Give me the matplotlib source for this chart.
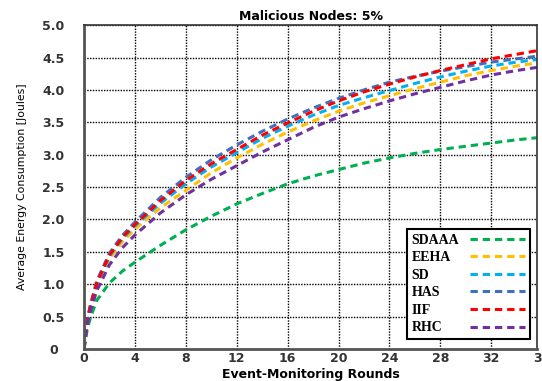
import matplotlib
matplotlib.use('Agg')
import matplotlib.pyplot as plt

rounds = [0, 0.25, 0.5, 1, 2, 3, 4, 6, 8, 10, 12, 14, 16, 18, 20, 22, 24, 26, 28, 30, 32, 34, 36]

sdaaa = [0, 0.30, 0.48, 0.75, 1.02, 1.20, 1.34, 1.60, 1.84, 2.05, 2.24, 2.40, 2.55, 2.67, 2.77,
         2.87, 2.95, 3.02, 3.08, 3.13, 3.18, 3.23, 3.27]
eeha = [0, 0.42, 0.63, 0.97, 1.39, 1.65, 1.85, 2.18, 2.45, 2.72, 2.95, 3.16, 3.35, 3.52, 3.67,
        3.80, 3.91, 4.02, 4.12, 4.22, 4.30, 4.37, 4.43]
sd = [0, 0.43, 0.65, 1.00, 1.43, 1.70, 1.90, 2.25, 2.55, 2.81, 3.03, 3.25, 3.44, 3.61, 3.76,
      3.88, 3.99, 4.10, 4.20, 4.29, 4.37, 4.43, 4.48]
has = [0, 0.45, 0.68, 1.05, 1.48, 1.75, 1.96, 2.34, 2.65, 2.92, 3.15, 3.36, 3.55, 3.72, 3.87,
       4.00, 4.12, 4.21, 4.29, 4.36, 4.43, 4.48, 4.53]
iif = [0, 0.44, 0.66, 1.02, 1.45, 1.72, 1.92, 2.29, 2.60, 2.86, 3.08, 3.30, 3.49, 3.67, 3.83,
       3.97, 4.09, 4.20, 4.30, 4.39, 4.48, 4.55, 4.62]
rhc = [0, 0.38, 0.58, 0.90, 1.30, 1.56, 1.76, 2.10, 2.38, 2.62, 2.83, 3.04, 3.23, 3.42, 3.58,
       3.71, 3.83, 3.94, 4.04, 4.14, 4.23, 4.30, 4.36]

series = [
    ('SDAAA', sdaaa, '#00b050'),
    ('EEHA', eeha, '#ffc000'),
    ('SD', sd, '#00b0f0'),
    ('HAS', has, '#3f6fbf'),
    ('IIF', iif, '#ff0000'),
    ('RHC', rhc, '#7030a0'),
]

xticks = [0, 4, 8, 12, 16, 20, 24, 28, 32]
yticks = [0, 0.5, 1.0, 1.5, 2.0, 2.5, 3.0, 3.5, 4.0, 4.5, 5.0]
ytick_labels = ['0', '0.5', '1.0', '1.5', '2.0', '2.5', '3.0', '3.5', '4.0', '4.5', '5.0']

fig = plt.figure(figsize=(5.42, 3.81), dpi=100)
ax = fig.add_axes([0.155, 0.084, 0.836, 0.85])

for name, vals, col in series:
    ax.plot(rounds, vals, color=col, lw=2.2, linestyle=(0, (2.4, 1.6)), label=name)

ax.set_xlim(0, 35.6)
ax.set_ylim(0, 5.0)
ax.set_xticks(xticks)
ax.set_xticklabels([str(t) for t in xticks], fontweight='bold', fontsize=9, color='#333333')
ax.set_yticks(yticks)
ax.set_yticklabels(ytick_labels, fontweight='bold', fontsize=9, color='#333333', ha='center')
ax.tick_params(length=0)
ax.tick_params(axis='x', pad=2)
ax.tick_params(axis='y', pad=22)
# last tick label sits past the axis end and is partly cut off, as in the original
ax.text(36, -0.008, '36', transform=ax.get_xaxis_transform(), ha='center', va='top',
        fontweight='bold', fontsize=9, color='#333333', clip_on=False)

ax.grid(True, color='black', linestyle=(0, (1, 1)), linewidth=1.0)

for s in ['left', 'bottom']:
    ax.spines[s].set_linewidth(2.0)
    ax.spines[s].set_color('#555555')
for s in ['top', 'right']:
    ax.spines[s].set_linewidth(1.2)
    ax.spines[s].set_color('#333333')

ax.set_title('Malicious Nodes: 5%', fontweight='bold', fontsize=9, pad=4)
ax.set_xlabel('Event-Monitoring Rounds', fontweight='bold', fontsize=9, labelpad=2)
ax.set_ylabel('Average Energy Consumption [Joules]', fontsize=7.8, labelpad=11)

leg = ax.legend(loc='lower right', bbox_to_anchor=(0.985, 0.03), markerfirst=False,
                prop={'family': 'Liberation Serif', 'weight': 'bold', 'size': 10},
                handlelength=4.0, labelspacing=0.33, fancybox=False, framealpha=1,
                edgecolor='black', borderpad=0.35, handletextpad=0.8, borderaxespad=0)
leg.get_frame().set_linewidth(1.5)
# labels left, lines right: stretch every row to the same width
for column in leg._legend_handle_box.get_children():
    for row in column.get_children():
        row.mode = 'expand'
        row.width = 114

fig.savefig('out.png', dpi=100)
